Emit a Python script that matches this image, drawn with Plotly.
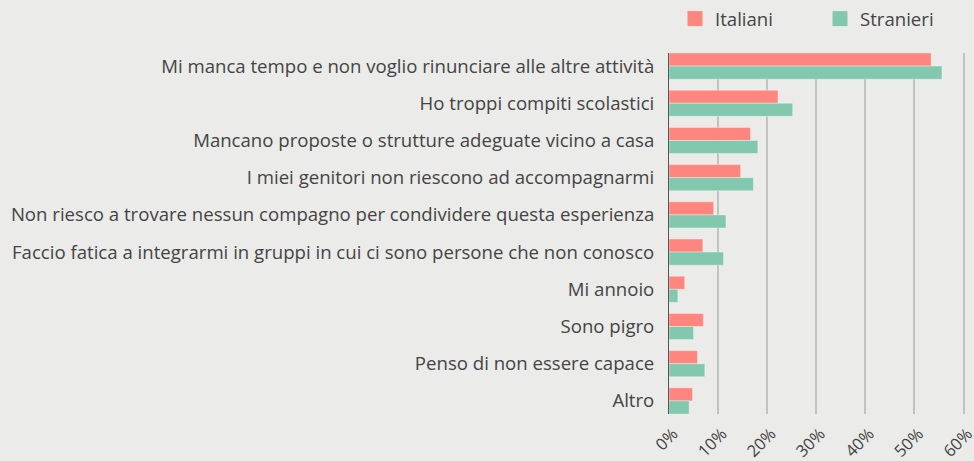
import plotly.graph_objects as go

categories = [
    "Mi manca tempo e non voglio rinunciare alle altre attività",
    "Ho troppi compiti scolastici",
    "Mancano proposte o strutture adeguate vicino a casa",
    "I miei genitori non riescono ad accompagnarmi",
    "Non riesco a trovare nessun compagno per condividere questa esperienza",
    "Faccio fatica a integrarmi in gruppi in cui ci sono persone che non conosco",
    "Mi annoio",
    "Sono pigro",
    "Penso di non essere capace",
    "Altro",
]
italiani = [53.4, 22.2, 16.6, 14.6, 9.1, 6.9, 3.2, 7.0, 5.8, 4.8]
stranieri = [55.6, 25.2, 18.1, 17.2, 11.6, 11.1, 1.8, 5.0, 7.3, 4.1]
x_ticks = [0, 10, 20, 30, 40, 50, 60]
x_tick_labels = ["0%", "10%", "20%", "30%", "40%", "50%", "60%"]

BG = "#EBEBE9"
TXT = "#444444"
FONT = "Open Sans"
FS = 18.6
RED = "#FF867E"
GREEN = "#81C8AE"

fig = go.Figure()
for name, vals, col in [("Italiani", italiani, RED), ("Stranieri", stranieri, GREEN)]:
    fig.add_trace(go.Bar(
        name=name, y=categories, x=vals, orientation="h", legendgroup=name, showlegend=False,
        marker=dict(color=col, line=dict(color="rgba(255,255,255,0.35)", width=1)),
    ))
# legend entries with larger square swatches
for name, col in [("Italiani", RED), ("Stranieri", GREEN)]:
    fig.add_trace(go.Scatter(
        name=name, x=[None], y=[None], mode="markers", legendgroup=name,
        marker=dict(symbol="square", size=15, color=col, line=dict(width=0)),
        hoverinfo="skip",
    ))

gap = 0.297
fig.update_layout(
    width=974, height=461,
    paper_bgcolor=BG, plot_bgcolor=BG,
    margin=dict(l=669, r=8, t=53, b=47, autoexpand=False),
    barmode="group", bargap=gap, bargroupgap=0,
    font=dict(family=FONT, size=FS, color=TXT),
    legend=dict(
        orientation="h", xref="container", yref="container",
        x=675 / 974, xanchor="left", y=1 - 19 / 461, yanchor="middle",
        font=dict(family=FONT, size=FS, color=TXT),
        bgcolor="rgba(0,0,0,0)", entrywidth=100, entrywidthmode="pixels",
    ),
    xaxis=dict(
        range=[0, 60.5], tickvals=x_ticks, ticktext=x_tick_labels,
        tickangle=-45, showgrid=True, gridcolor="#C2C2C0", gridwidth=1.5,
        zeroline=False, showline=False, ticks="",
        ticklabelstandoff=6, ticklabelshift=4, ticklabeloverflow="allow",
        tickfont=dict(family=FONT, size=16.5, color=TXT),
    ),
    yaxis=dict(
        type="category", range=[9.5 - gap / 2, -0.5 + gap / 2],
        showgrid=False, zeroline=False, showline=True, linecolor="#555555", linewidth=1,
        ticks="", ticklabelstandoff=10,
        tickfont=dict(family=FONT, size=FS, color=TXT),
    ),
)

fig.write_html(
    "out.html",
    config={"displayModeBar": False},
    post_script="document.body.style.margin='0';document.body.style.background='%s';" % BG,
)
